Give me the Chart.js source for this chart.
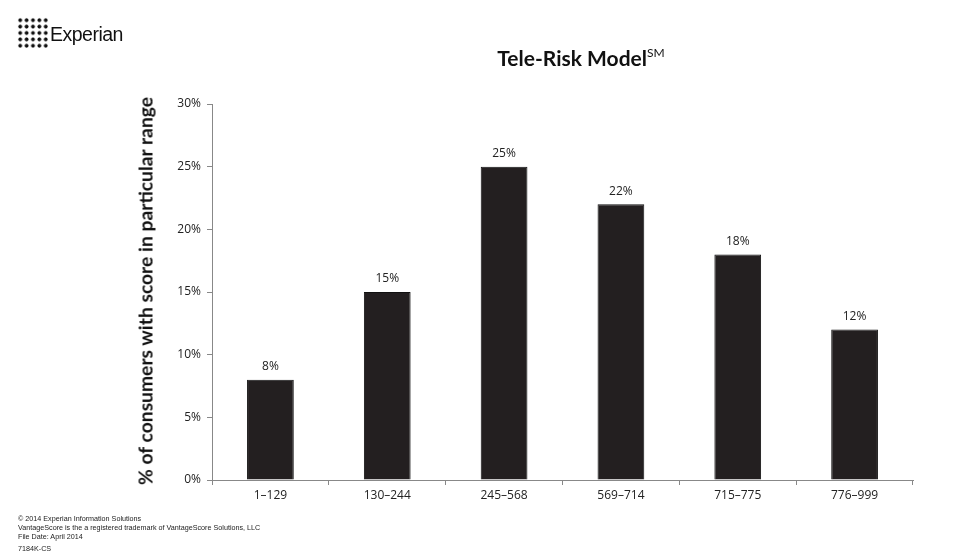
<!DOCTYPE html>
<html lang="en">
<head>
    <meta charset="UTF-8">
    <title>Tele-Risk Model</title>
    <script src="https://cdn.jsdelivr.net/npm/chart.js"></script>
    <style>
        body { margin: 0; background: #fff; font-family: "Open Sans", sans-serif; }
        .wrap { position: relative; width: 955px; height: 554px; }
        #chart { position: absolute; left: 0; top: 0; }
        .logo { position: absolute; left: 17px; top: 17px; width: 32px; height: 32px;
            background: radial-gradient(circle, #111 1.6px, transparent 2.2px) 0 0 / 6.4px 6.4px; }
        .logo-text { position: absolute; left: 50px; top: 23px; font: 19.5px "Liberation Sans", Arial, sans-serif; color: #111; letter-spacing: -0.5px; }
        .title { position: absolute; left: 0; width: 1162px; top: 45px; text-align: center; font: bold 21px Lato, sans-serif; color: #111; }
        .title sup { font-size: 12px; font-weight: normal; vertical-align: 9px; }
        .ytitle { position: absolute; left: 145px; top: 291px; transform: translate(-50%, -50%) rotate(-90deg);
            white-space: nowrap; font: bold 19.3px Lato, sans-serif; color: #111; }
        .footer { position: absolute; left: 18px; top: 514px; font: 7.2px "Liberation Sans", Arial, sans-serif; color: #222; line-height: 9px; }
        .footer .code { margin-top: 3px; }
    </style>
</head>
<body>
    <div class="wrap">
        <canvas id="chart" width="955" height="554"></canvas>
        <div class="logo"></div>
        <div class="logo-text">Experian</div>
        <div class="title">Tele-Risk Model<sup>SM</sup></div>
        <div class="ytitle">% of consumers with score in particular range</div>
        <div class="footer">
            © 2014 Experian Information Solutions<br>
            VantageScore is the a registered trademark of VantageScore Solutions, LLC<br>
            File Date: April 2014
            <div class="code">7184K-CS</div>
        </div>
    </div>

    <script>
        const scoreRanges = ['1–129', '130–244', '245–568', '569–714', '715–775', '776–999'];
        const consumerShare = [8, 15, 25, 22, 18, 12];
        const yTicks = [0, 5, 10, 15, 20, 25, 30];

        // labels above each bar
        const valueLabels = {
            id: 'valueLabels',
            afterDatasetsDraw(chart) {
                const ctx = chart.ctx;
                const meta = chart.getDatasetMeta(0);
                ctx.save();
                ctx.font = '12px "Open Sans", sans-serif';
                ctx.fillStyle = '#222';
                ctx.textAlign = 'center';
                ctx.textBaseline = 'middle';
                meta.data.forEach((bar, i) => {
                    ctx.fillText(consumerShare[i] + '%', bar.x, bar.y - 13);
                });
                ctx.restore();
            }
        };

        new Chart(document.getElementById('chart'), {
            type: 'bar',
            data: {
                labels: scoreRanges,
                datasets: [{
                    data: consumerShare,
                    backgroundColor: '#231f20',
                    borderColor: '#111',
                    borderWidth: 1,
                    categoryPercentage: 1,
                    barPercentage: 0.4
                }]
            },
            options: {
                responsive: false,
                animation: false,
                layout: { padding: { left: 160, top: 104, right: 42, bottom: 44 } },
                plugins: { legend: { display: false }, tooltip: { enabled: false } },
                scales: {
                    x: {
                        afterFit(s) { s.height = 30; },
                        grid: { offset: true, drawOnChartArea: false, tickLength: 5, color: '#888' },
                        border: { color: '#888', width: 1 },
                        ticks: { color: '#222', font: { family: 'Open Sans', size: 12 }, padding: 3, maxRotation: 0 }
                    },
                    y: {
                        min: 0,
                        max: 30,
                        afterFit(s) { s.width = 52; },
                        afterBuildTicks(s) { s.ticks = yTicks.map(v => ({ value: v })); },
                        grid: { drawOnChartArea: false, tickLength: 5, color: '#888' },
                        border: { color: '#888', width: 1 },
                        ticks: {
                            color: '#222',
                            font: { family: 'Open Sans', size: 12 },
                            padding: 6,
                            callback: v => v + '%'
                        }
                    }
                }
            },
            plugins: [valueLabels]
        });
    </script>
</body>
</html>
